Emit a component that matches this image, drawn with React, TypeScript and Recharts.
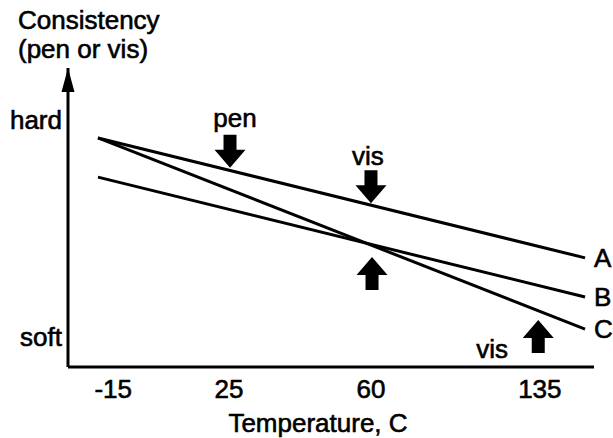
import { ComposedChart, Line, XAxis, YAxis, ReferenceDot, LabelList } from 'recharts'

// x is a position along the (schematic) temperature axis, y a consistency level
const lineX = [5.7, 98.3]
const seriesA = [76.6, 36.5]
const seriesB = [63.5, 23.4]
const seriesC = [76.6, 12.7]
const lineNames = ['A', 'B', 'C']

const tempTicks = [8.6, 30.6, 57.6, 89.7]
const tempLabels = ['-15', '25', '60', '135']

const levelTicks = [82.7, 10.1]
const levelLabels = ['hard', 'soft']

const arrowX = [30.8, 57.6, 57.8, 89.4]
const arrowY = [66.6, 54.8, 36.8, 15.7]
const arrowDir = ['down', 'down', 'up', 'up']
const arrowText = ['pen', 'vis', '', 'vis']

// label offsets (px) relative to the arrow tip
const arrowTextOffset = [
  [5, -41],
  [-3, -38],
  [0, 0],
  [-46, 38],
]

const FONT = '"Liberation Sans", Arial, Helvetica, sans-serif'
const FS = 26
// the scanned original has heavier glyphs than a plain regular face
const txt = { fontFamily: FONT, fontSize: FS, fill: '#000', stroke: '#000', strokeWidth: 0.6 }

const rows = lineX.map((x, i) => ({ x, a: seriesA[i], b: seriesB[i], c: seriesC[i] }))

function BlockArrow(props: any) {
  const { cx, cy, dir, text, off } = props
  const s = dir === 'down' ? 1 : -1
  const head = 18
  const len = 33
  const hw = 15.5
  const sw = 6.5
  const pts = [
    [cx, cy],
    [cx + hw, cy - s * head],
    [cx + sw, cy - s * head],
    [cx + sw, cy - s * len],
    [cx - sw, cy - s * len],
    [cx - sw, cy - s * head],
    [cx - hw, cy - s * head],
  ]
    .map((p) => p.join(','))
    .join(' ')
  return (
    <g>
      <polygon points={pts} fill="#000" />
      {text ? (
        <text x={cx + off[0]} y={cy + off[1]} textAnchor="middle" {...txt}>
          {text}
        </text>
      ) : null}
    </g>
  )
}

function AxisArrow(props: any) {
  const { cx, cy } = props
  return <polygon points={`${cx},${cy} ${cx + 6.5},${cy + 24} ${cx - 6.5},${cy + 24}`} fill="#000" />
}

const endLabel = (name: string) => (p: any) => {
  if (p.index !== lineX.length - 1) return null
  return (
    <text x={p.x + 9} y={p.y} dominantBaseline="central" {...txt}>
      {name}
    </text>
  )
}

export default function App() {
  return (
    <div style={{ position: 'absolute', left: 0, top: 0, background: '#fff' }}>
      <ComposedChart width={613} height={438} data={rows} margin={{ top: 68, right: 19, bottom: 0, left: 0 }}>
        <XAxis
          type="number"
          dataKey="x"
          domain={[0, 100]}
          ticks={tempTicks}
          tickFormatter={(v: number) => tempLabels[tempTicks.indexOf(v)] ?? ''}
          interval={0}
          height={71}
          tickLine={false}
          tickSize={6}
          tickMargin={7}
          axisLine={{ stroke: '#000', strokeWidth: 3 }}
          tick={txt}
          label={{
            content: (p: any) => (
              <text x={p.viewBox.x + p.viewBox.width / 2 - 13} y={432} textAnchor="middle" {...txt}>
                Temperature, C
              </text>
            ),
          }}
        />
        <YAxis
          type="number"
          domain={[0, 100]}
          ticks={levelTicks}
          tickFormatter={(v: number) => levelLabels[levelTicks.indexOf(v)] ?? ''}
          interval={0}
          width={68}
          tickLine={false}
          tickSize={0}
          tickMargin={6}
          axisLine={{ stroke: '#000', strokeWidth: 3 }}
          tick={txt}
          label={{
            content: () => (
              <g>
                <text x={18} y={29} {...txt}>
                  Consistency
                </text>
                <text x={18} y={58} {...txt}>
                  (pen or vis)
                </text>
              </g>
            ),
          }}
        />
        {['a', 'b', 'c'].map((k, i) => (
          <Line
            key={k}
            type="linear"
            dataKey={k}
            stroke="#000"
            strokeWidth={3}
            dot={false}
            activeDot={false}
            isAnimationActive={false}
          >
            <LabelList dataKey={k} content={endLabel(lineNames[i])} />
          </Line>
        ))}
        <ReferenceDot x={0} y={100} ifOverflow="visible" shape={(p: any) => <AxisArrow {...p} />} />
        {arrowX.map((x, i) => (
          <ReferenceDot
            key={i}
            x={x}
            y={arrowY[i]}
            ifOverflow="visible"
            shape={(p: any) => <BlockArrow {...p} dir={arrowDir[i]} text={arrowText[i]} off={arrowTextOffset[i]} />}
          />
        ))}
      </ComposedChart>
    </div>
  )
}
